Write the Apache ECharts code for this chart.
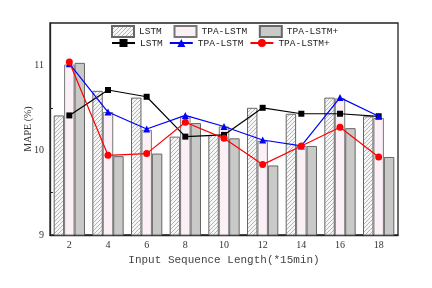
<!DOCTYPE html>
<html><head><meta charset="utf-8">
<script src="https://cdn.jsdelivr.net/npm/echarts@6/dist/echarts.min.js"></script>
<style>html,body{margin:0;padding:0;background:#fff}#c{width:432px;height:288px}</style>
</head><body><div id="c"></div>
<script>
const categories = ['2','4','6','8','10','12','14','16','18'];
const lstmBar   = [10.41, 10.70, 10.62, 10.16, 10.18, 10.50, 10.43, 10.62, 10.40];
const tpaBar    = [11.01, 10.45, 10.24, 10.40, 10.28, 10.11, 10.05, 10.61, 10.38];
const tpaPBar   = [11.03, 9.93, 9.96, 10.32, 10.14, 9.82, 10.05, 10.26, 9.92];
const lstmLine  = [10.41, 10.71, 10.63, 10.16, 10.18, 10.50, 10.43, 10.43, 10.40];
const tpaLine   = [11.02, 10.45, 10.25, 10.41, 10.28, 10.12, 10.05, 10.62, 10.40];
const tpaPLine  = [11.04, 9.94, 9.96, 10.33, 10.14, 9.83, 10.05, 10.27, 9.92];

// hatch pattern
const pc = document.createElement('canvas');
pc.width = 4; pc.height = 4;
const g = pc.getContext('2d');
g.fillStyle = '#f6f6f6'; g.fillRect(0,0,4,4);
g.strokeStyle = '#a4a4a4'; g.lineWidth = 0.8;
g.beginPath(); g.moveTo(0,4); g.lineTo(4,0); g.moveTo(-1,1); g.lineTo(1,-1); g.moveTo(3,5); g.lineTo(5,3); g.stroke();
const hatch = {image: pc, repeat: 'repeat'};

const legendText = {fontFamily: 'Liberation Mono', fontSize: 9.5, color: '#222'};
const chart = echarts.init(document.getElementById('c'), null, {renderer: 'canvas'});
chart.setOption({
  animation: false,
  backgroundColor: '#fff',
  grid: {left: 50, right: 34, top: 23, bottom: 53, show: true, borderColor: '#222', borderWidth: 1.3, backgroundColor: 'transparent'},
  legend: [
    {data: ['LSTM ', 'TPA-LSTM ', 'TPA-LSTM+ '], left: 111, top: 25, padding: 0, icon: 'rect',
     itemWidth: 22, itemHeight: 11, itemGap: 6, textStyle: legendText},
    {data: ['LSTM', 'TPA-LSTM', 'TPA-LSTM+'], left: 111, top: 38, padding: 0,
     itemWidth: 23, itemHeight: 10, itemGap: 6, textStyle: legendText}
  ],
  xAxis: {
    type: 'category', data: categories, boundaryGap: true,
    name: 'Input Sequence Length(*15min)', nameLocation: 'middle', nameGap: 20, nameMoveOverlap: false,
    nameTextStyle: {fontFamily: 'Liberation Mono', fontSize: 11, color: '#444'},
    axisLine: {lineStyle: {color: '#222', width: 1.3}},
    axisTick: {inside: true, alignWithLabel: true, length: 4, lineStyle: {color: '#222'}},
    axisLabel: {fontFamily: 'Liberation Serif', fontSize: 10, color: '#333', margin: 5},
    splitLine: {show: false}
  },
  yAxis: {
    type: 'value', min: 9, max: 11.5, interval: 1,
    name: 'MAPE (%)', nameLocation: 'middle', nameGap: 17, nameMoveOverlap: false,
    nameTextStyle: {fontFamily: 'Liberation Serif', fontSize: 10, color: '#333'},
    axisLine: {show: true, lineStyle: {color: '#222', width: 1.3}},
    axisTick: {inside: true, length: 4, lineStyle: {color: '#222'}},
    minorTick: {show: true, splitNumber: 2, length: 3, lineStyle: {color: '#222'}},
    axisLabel: {fontFamily: 'Liberation Serif', fontSize: 10, color: '#333', margin: 6,
      formatter: v => (v === 11.5 ? '' : String(v))},
    splitLine: {show: false}
  },
  series: [
    {name: 'LSTM ', type: 'bar', data: lstmBar, barGap: '0%', barCategoryGap: '19%',
     itemStyle: {color: hatch, borderColor: '#666', borderWidth: 1}},
    {name: 'TPA-LSTM ', type: 'bar', data: tpaBar,
     itemStyle: {color: '#fcf0f7', borderColor: '#777', borderWidth: 1}},
    {name: 'TPA-LSTM+ ', type: 'bar', data: tpaPBar,
     itemStyle: {color: '#c9c9c7', borderColor: '#666', borderWidth: 1}},
    {name: 'LSTM', type: 'line', data: lstmLine, symbol: 'rect', symbolSize: 6, z: 5,
     lineStyle: {color: '#000', width: 1.2}, itemStyle: {color: '#000'}},
    {name: 'TPA-LSTM', type: 'line', data: tpaLine, symbol: 'triangle', symbolSize: 7, z: 6,
     lineStyle: {color: '#0000ff', width: 1.2}, itemStyle: {color: '#0000ff'}},
    {name: 'TPA-LSTM+', type: 'line', data: tpaPLine, symbol: 'circle', symbolSize: 7, z: 7,
     lineStyle: {color: '#ff0000', width: 1.2}, itemStyle: {color: '#ff0000'}}
  ]
});
</script></body></html>
